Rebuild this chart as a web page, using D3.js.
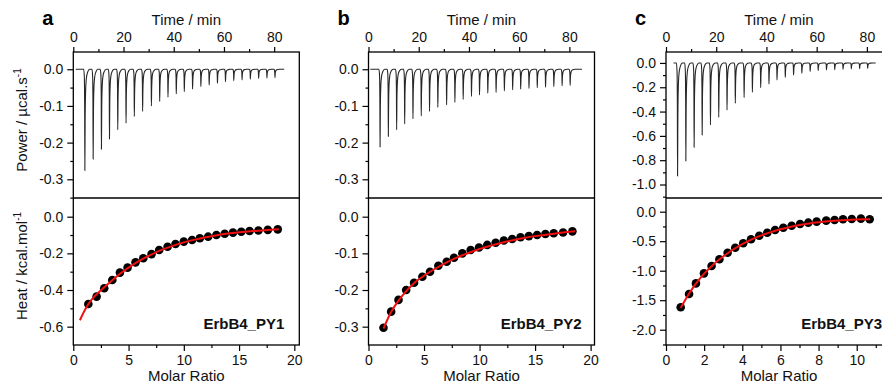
<!DOCTYPE html>
<html>
<head>
<meta charset="utf-8">
<script src="https://cdn.jsdelivr.net/npm/d3@7"></script>
<style>
  body { margin: 0; background: #fff; }
  svg { font-family: "Liberation Sans", Arial, sans-serif; }
  .axis path { display: none; }
  .axis line { stroke: #000; stroke-width: 1.2; }
  .axis text { font-size: 14px; fill: #111; }
  .frame { fill: none; stroke: #000; stroke-width: 1.3; }
  .trace { fill: none; stroke: #262626; stroke-width: 1.1; }
  .fit { fill: none; stroke: #f01010; stroke-width: 2; }
  .dot { fill: #000; }
  .axistitle { font-size: 15px; fill: #111; }
  .letter { font-size: 20px; font-weight: bold; fill: #000; }
  .sample { font-size: 15px; font-weight: bold; fill: #111; }
</style>
</head>
<body>
<svg id="chart" width="882" height="384"></svg>
<script>
// injection times (min), same run protocol for all three titrations
var injTime = [4.6, 7.9, 11.2, 14.4, 17.7, 21.0, 24.3, 27.6, 31.1, 34.4, 37.7, 41.0,
               44.2, 47.5, 50.8, 54.1, 57.4, 60.6, 63.9, 67.2, 70.5, 73.8, 77.1, 80.3];

// peak heights of the raw thermograms (µcal/s)
var powerA = [-0.276, -0.245, -0.218, -0.190, -0.165, -0.147, -0.129, -0.115, -0.100, -0.088, -0.076, -0.067,
              -0.061, -0.054, -0.047, -0.043, -0.038, -0.034, -0.031, -0.029, -0.027, -0.025, -0.024, -0.023];
var powerB = [-0.212, -0.183, -0.165, -0.149, -0.135, -0.127, -0.115, -0.104, -0.097, -0.090, -0.082, -0.074,
              -0.070, -0.065, -0.063, -0.059, -0.056, -0.054, -0.052, -0.050, -0.049, -0.047, -0.045, -0.044];
var powerC = [-0.930, -0.807, -0.694, -0.593, -0.510, -0.447, -0.387, -0.332, -0.285, -0.241, -0.203, -0.173,
              -0.140, -0.118, -0.099, -0.085, -0.071, -0.063, -0.058, -0.055, -0.052, -0.049, -0.047, -0.044];

// integrated heats (kcal/mol) vs molar ratio
var ratioA = [1.36, 2.11, 2.80, 3.53, 4.22, 4.91, 5.63, 6.33, 7.08, 7.77, 8.53, 9.25,
              10.0, 10.75, 11.45, 12.2, 12.95, 13.7, 14.45, 15.2, 15.95, 16.75, 17.6, 18.5];
var heatA = [-0.476, -0.436, -0.390, -0.345, -0.305, -0.278, -0.249, -0.227, -0.204, -0.182, -0.164, -0.149,
             -0.136, -0.127, -0.118, -0.109, -0.100, -0.093, -0.087, -0.082, -0.078, -0.075, -0.072, -0.069];
var ratioB = [1.35, 2.04, 2.70, 3.39, 4.10, 4.85, 5.54, 6.29, 7.04, 7.70, 8.45, 9.20,
              9.95, 10.69, 11.45, 12.19, 12.94, 13.69, 14.44, 15.18, 15.93, 16.68, 17.52, 18.36];
var heatB = [-0.303, -0.259, -0.227, -0.200, -0.180, -0.164, -0.150, -0.134, -0.123, -0.112, -0.100, -0.091,
             -0.084, -0.077, -0.071, -0.065, -0.061, -0.056, -0.053, -0.050, -0.047, -0.045, -0.043, -0.040];
var ratioC = [0.77, 1.21, 1.57, 1.99, 2.39, 2.80, 3.23, 3.63, 4.05, 4.46, 4.89, 5.31,
              5.72, 6.15, 6.59, 7.03, 7.46, 7.90, 8.40, 8.84, 9.28, 9.74, 10.22, 10.68];
var heatC = [-1.620, -1.395, -1.215, -1.045, -0.920, -0.807, -0.695, -0.610, -0.536, -0.468, -0.407, -0.356,
             -0.310, -0.271, -0.237, -0.208, -0.186, -0.169, -0.152, -0.140, -0.129, -0.124, -0.118, -0.127];

// fitted binding curves [molar ratio, heat]
var fitA = [[0.6, -0.565], [1, -0.515], [1.5, -0.465], [2, -0.43], [2.8, -0.385], [3.5, -0.348], [4.2, -0.313],
            [5, -0.278], [6, -0.24], [7, -0.208], [8, -0.181], [9, -0.159], [10, -0.14], [11, -0.125],
            [12, -0.112], [13, -0.101], [14, -0.092], [15, -0.085], [16, -0.079], [17, -0.075], [18.6, -0.069]];
var fitB = [[1.35, -0.305], [2, -0.262], [2.7, -0.229], [3.4, -0.203], [4, -0.184], [5, -0.161], [6, -0.142],
            [7, -0.125], [8, -0.111], [9, -0.099], [10, -0.088], [11, -0.079], [12, -0.071], [13, -0.064],
            [14, -0.058], [15, -0.053], [16, -0.049], [17, -0.045], [18.6, -0.040]];
var fitC = [[0.77, -1.63], [1, -1.5], [1.5, -1.25], [2, -1.05], [2.5, -0.89], [3, -0.76], [3.5, -0.645],
            [4, -0.548], [4.5, -0.468], [5, -0.402], [5.5, -0.347], [6, -0.298], [6.5, -0.258], [7, -0.226],
            [7.5, -0.2], [8, -0.18], [8.5, -0.164], [9, -0.151], [9.5, -0.141], [10, -0.134], [10.7, -0.127]];

// tick labels
var timeTicks = [0, 20, 40, 60, 80];
var timeMinor = [10, 30, 50, 70];
var powerTicksAB = [0, -0.1, -0.2, -0.3];
var powerMinorAB = [0.05, -0.05, -0.15, -0.25, -0.35];
var powerTicksC = [0, -0.2, -0.4, -0.6, -0.8, -1.0];
var powerMinorC = [-0.1, -0.3, -0.5, -0.7, -0.9, -1.1];
var heatTicksA = [0, -0.2, -0.4, -0.6];
var heatMinorA = [-0.1, -0.3, -0.5, -0.7];
var heatTicksB = [0, -0.1, -0.2, -0.3];
var heatMinorB = [-0.05, -0.15, -0.25, -0.35];
var heatTicksC = [0, -0.5, -1.0, -1.5, -2.0];
var heatMinorC = [-0.25, -0.75, -1.25, -1.75, -2.25];
var ratioTicks20 = [0, 5, 10, 15, 20];
var ratioMinor20 = [2.5, 7.5, 12.5, 17.5];
var ratioTicksC = [0, 2, 4, 6, 8, 10];
var ratioMinorC = [1, 3, 5, 7, 9, 11];

// layout
var top0 = 52, mid = 198, bottom = 345, panelW = 226;

// shape of a single injection spike: [minutes from peak, fraction of peak height]
var SPIKE = [[-0.45, 0], [-0.2, 0.08], [-0.08, 0.35], [0, 1], [0.12, 0.5], [0.3, 0.22],
             [0.6, 0.09], [1.1, 0.03], [1.9, 0]];

var panels = [
  { letter: "a", left: 73.3, power: powerA, traceRange: [1, 84],
    powerDomain: [-0.351, 0.047], powerTicks: powerTicksAB, powerMinor: powerMinorAB,
    ratio: ratioA, heat: heatA, fit: fitA, ratioDomain: [0, 20.45], ratioTicks: ratioTicks20, ratioMinor: ratioMinor20,
    heatDomain: [-0.7, 0.102], heatTicks: heatTicksA, heatMinor: heatMinorA, name: "ErbB4_PY1", nameInset: 15, ylabels: true },
  { letter: "b", left: 368.5, power: powerB, traceRange: [0.7, 85],
    powerDomain: [-0.351, 0.047], powerTicks: powerTicksAB, powerMinor: powerMinorAB,
    ratio: ratioB, heat: heatB, fit: fitB, ratioDomain: [0, 20.35], ratioTicks: ratioTicks20, ratioMinor: ratioMinor20,
    heatDomain: [-0.35, 0.051], heatTicks: heatTicksB, heatMinor: heatMinorB, name: "ErbB4_PY2", nameInset: 13, ylabels: false },
  { letter: "c", left: 666, power: powerC, traceRange: [3, 83.5],
    powerDomain: [-1.111, 0.09], powerTicks: powerTicksC, powerMinor: powerMinorC,
    ratio: ratioC, heat: heatC, fit: fitC, ratioDomain: [0, 11.85], ratioTicks: ratioTicksC, ratioMinor: ratioMinorC,
    heatDomain: [-2.259, 0.232], heatTicks: heatTicksC, heatMinor: heatMinorC, name: "ErbB4_PY3", nameInset: 10, ylabels: false }
];

var svg = d3.select("#chart");
var fmt1 = function(d) { return d.toFixed(1); };

panels.forEach(function(p) {
  var x0 = p.left, x1 = p.left + panelW;

  var xTime = d3.scaleLinear().domain([0, 90]).range([x0, x1]);
  var yPow = d3.scaleLinear().domain(p.powerDomain).range([mid, top0]);
  var xRat = d3.scaleLinear().domain(p.ratioDomain).range([x0, x1]);
  var yHeat = d3.scaleLinear().domain(p.heatDomain).range([bottom, mid]);

  var g = svg.append("g");

  // AXES
  g.append("g").attr("class", "axis").attr("transform", "translate(0," + top0 + ")")
    .call(d3.axisTop(xTime).tickValues(timeTicks).tickSize(5).tickPadding(5).tickFormat(d3.format("d")));
  g.append("g").attr("class", "axis").attr("transform", "translate(0," + top0 + ")")
    .call(d3.axisTop(xTime).tickValues(timeMinor).tickSize(3).tickFormat(""));

  g.append("g").attr("class", "axis").attr("transform", "translate(" + x0 + ",0)")
    .call(d3.axisLeft(yPow).tickValues(p.powerTicks).tickSize(6).tickPadding(4).tickFormat(fmt1));
  g.append("g").attr("class", "axis").attr("transform", "translate(" + x0 + ",0)")
    .call(d3.axisLeft(yPow).tickValues(p.powerMinor.filter(function(v) { return v > p.powerDomain[0] && v < p.powerDomain[1]; }))
      .tickSize(3).tickFormat(""));

  g.append("g").attr("class", "axis").attr("transform", "translate(" + x0 + ",0)")
    .call(d3.axisLeft(yHeat).tickValues(p.heatTicks).tickSize(6).tickPadding(4).tickFormat(fmt1));
  g.append("g").attr("class", "axis").attr("transform", "translate(" + x0 + ",0)")
    .call(d3.axisLeft(yHeat).tickValues(p.heatMinor.filter(function(v) { return v > p.heatDomain[0] && v < p.heatDomain[1]; }))
      .tickSize(3).tickFormat(""));

  g.append("g").attr("class", "axis").attr("transform", "translate(0," + bottom + ")")
    .call(d3.axisBottom(xRat).tickValues(p.ratioTicks).tickSize(6).tickPadding(4).tickFormat(d3.format("d")));
  g.append("g").attr("class", "axis").attr("transform", "translate(0," + bottom + ")")
    .call(d3.axisBottom(xRat).tickValues(p.ratioMinor.filter(function(v) { return v < p.ratioDomain[1]; }))
      .tickSize(3).tickFormat(""));

  // RAW THERMOGRAM
  var trace = [[p.traceRange[0], 0]];
  injTime.forEach(function(t, i) {
    SPIKE.forEach(function(s) { trace.push([t + s[0], p.power[i] * s[1]]); });
  });
  trace.push([p.traceRange[1], 0]);

  g.append("path")
    .attr("class", "trace")
    .attr("d", d3.line()
      .x(function(d) { return xTime(d[0]); })
      .y(function(d) { return yPow(d[1]); })
      .curve(d3.curveMonotoneX)(trace));

  // INTEGRATED HEATS + FIT
  g.selectAll(".dot")
    .data(p.ratio)
    .enter().append("circle")
    .attr("class", "dot")
    .attr("cx", function(d) { return xRat(d); })
    .attr("cy", function(d, i) { return yHeat(p.heat[i]); })
    .attr("r", 4.3);

  g.append("path")
    .attr("class", "fit")
    .attr("d", d3.line()
      .x(function(d) { return xRat(d[0]); })
      .y(function(d) { return yHeat(d[1]); })
      .curve(d3.curveMonotoneX)(p.fit));

  // FRAME
  g.append("rect").attr("class", "frame")
    .attr("x", x0).attr("y", top0).attr("width", panelW).attr("height", bottom - top0);
  g.append("line").attr("class", "frame")
    .attr("x1", x0).attr("x2", x1).attr("y1", mid).attr("y2", mid);

  // LABELS
  g.append("text").attr("class", "letter")
    .attr("x", x0 - 31).attr("y", 25).text(p.letter);
  g.append("text").attr("class", "axistitle")
    .attr("x", (x0 + x1) / 2).attr("y", 25).attr("text-anchor", "middle").text("Time / min");
  g.append("text").attr("class", "axistitle")
    .attr("x", (x0 + x1) / 2).attr("y", 381).attr("text-anchor", "middle").text("Molar Ratio");
  g.append("text").attr("class", "sample")
    .attr("x", x1 - p.nameInset).attr("y", 329).attr("text-anchor", "end").text(p.name);

  if (p.ylabels) {
    var t1 = g.append("text").attr("class", "axistitle")
      .attr("transform", "translate(26.5,120) rotate(-90)")
      .attr("text-anchor", "middle");
    t1.append("tspan").text("Power / µcal.s");
    t1.append("tspan").attr("dy", -6).style("font-size", "10px").text("-1");

    var t2 = g.append("text").attr("class", "axistitle")
      .attr("transform", "translate(26.5,266) rotate(-90)")
      .attr("text-anchor", "middle");
    t2.append("tspan").text("Heat / kcal.mol");
    t2.append("tspan").attr("dy", -6).style("font-size", "10px").text("-1");
  }
});
</script>
</body>
</html>
